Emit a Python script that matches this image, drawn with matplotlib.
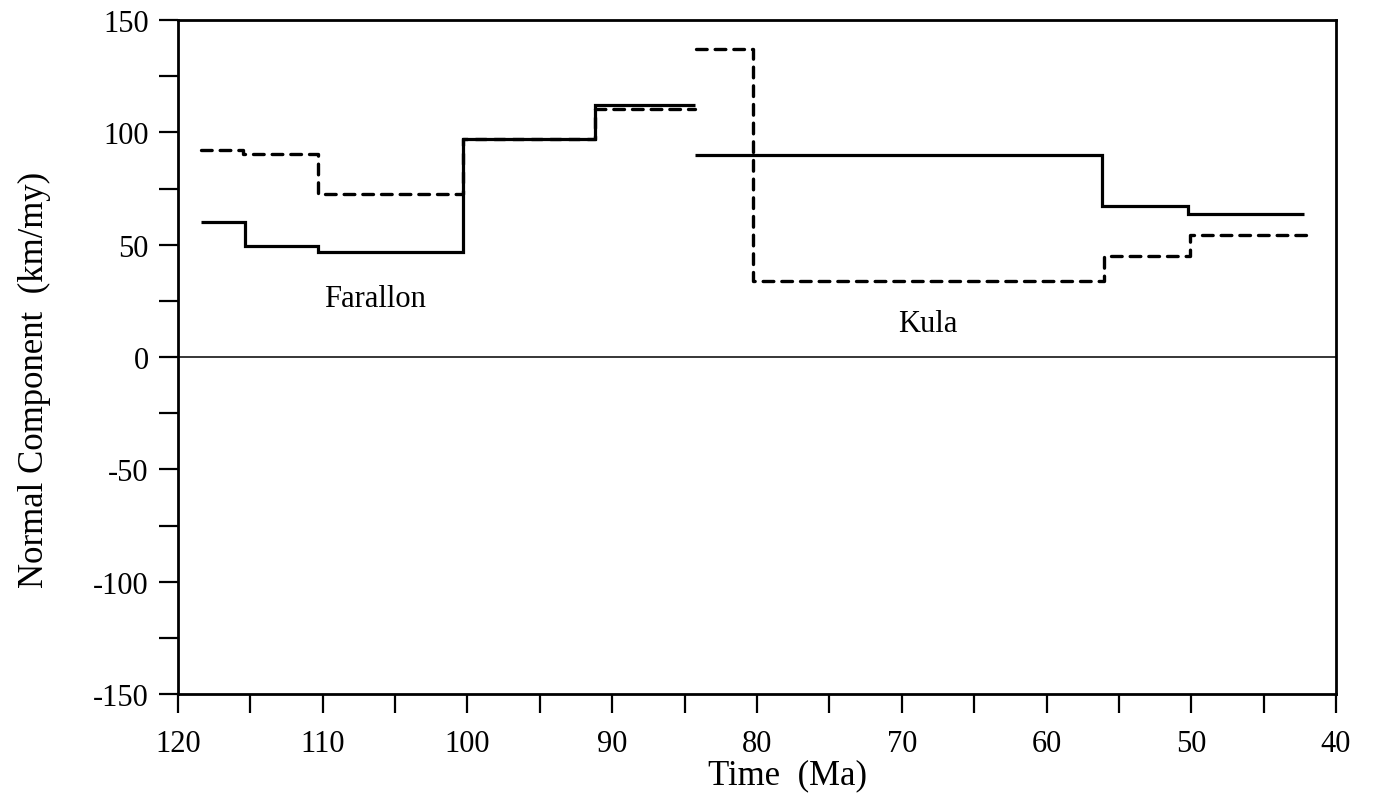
import numpy as np
import matplotlib
matplotlib.use("Agg")
import matplotlib.pyplot as plt
from matplotlib.ticker import MultipleLocator

# Normal component of plate convergence (km/my) vs. time (Ma), piecewise constant
farallon_solid_edges = [118.4, 115.4, 110.3, 100.3, 91.2, 84.3]
farallon_solid_vals = [60, 49.5, 46.8, 97, 112]

farallon_dash_edges = [118.4, 115.5, 110.3, 100.3, 91.2, 84.3]
farallon_dash_vals = [92, 90.5, 72.5, 97, 110.5]

kula_solid_edges = [84.3, 56.2, 50.2, 42.2]
kula_solid_vals = [90, 67, 63.5]

kula_dash_edges = [84.2, 80.3, 56.0, 50.1, 42.1]
kula_dash_vals = [137, 34, 45, 54.5]

plate_labels = ["Farallon", "Kula"]
x_ticks = [120, 110, 100, 90, 80, 70, 60, 50, 40]
y_ticks = [-150, -100, -50, 0, 50, 100, 150]

plt.rcParams["font.family"] = ["Liberation Serif", "DejaVu Serif"]
plt.rcParams["axes.unicode_minus"] = False


def step_xy(edges, vals):
    x = np.repeat(edges, 2)[1:-1]
    y = np.repeat(vals, 2)
    return x, y


fig = plt.figure(figsize=(13.75, 8.04), dpi=100)
ax = fig.add_axes([178 / 1375, 1 - 695 / 804, (1336 - 178) / 1375, (695 - 21) / 804])

dash_kw = dict(color="black", lw=2.4, linestyle=(0, (3.2, 2.4)),
               dash_capstyle="round", solid_capstyle="round")
solid_kw = dict(color="black", lw=2.3, solid_capstyle="butt", solid_joinstyle="miter")

for edges, vals in [(farallon_dash_edges, farallon_dash_vals),
                    (kula_dash_edges, kula_dash_vals)]:
    ax.plot(*step_xy(edges, vals), **dash_kw)

for edges, vals in [(farallon_solid_edges, farallon_solid_vals),
                    (kula_solid_edges, kula_solid_vals)]:
    ax.plot(*step_xy(edges, vals), **solid_kw)

ax.axhline(0, color="black", lw=1.1)

ax.text(106.4, 26, plate_labels[0], ha="center", va="center", fontsize=22)
ax.text(68.2, 15, plate_labels[1], ha="center", va="center", fontsize=22)

ax.set_xlim(120, 40)
ax.set_ylim(-150, 150)
ax.set_xticks(x_ticks)
ax.set_yticks(y_ticks)
ax.xaxis.set_minor_locator(MultipleLocator(5))
ax.yaxis.set_minor_locator(MultipleLocator(25))
ax.tick_params(which="both", direction="out", length=14, width=1.6,
               top=False, right=False, labelsize=22)
ax.tick_params(axis="x", pad=11)
ax.tick_params(axis="y", pad=7)

for s in ax.spines.values():
    s.set_linewidth(2.0)

ax.set_xlabel("Time  (Ma)", fontsize=25)
ax.xaxis.set_label_coords((788 - 178) / 1158, -0.095)
ax.set_ylabel("Normal Component  (km/my)", fontsize=25)
ax.yaxis.set_label_coords(-0.11, 0.467)

fig.savefig("out.png", dpi=100)
